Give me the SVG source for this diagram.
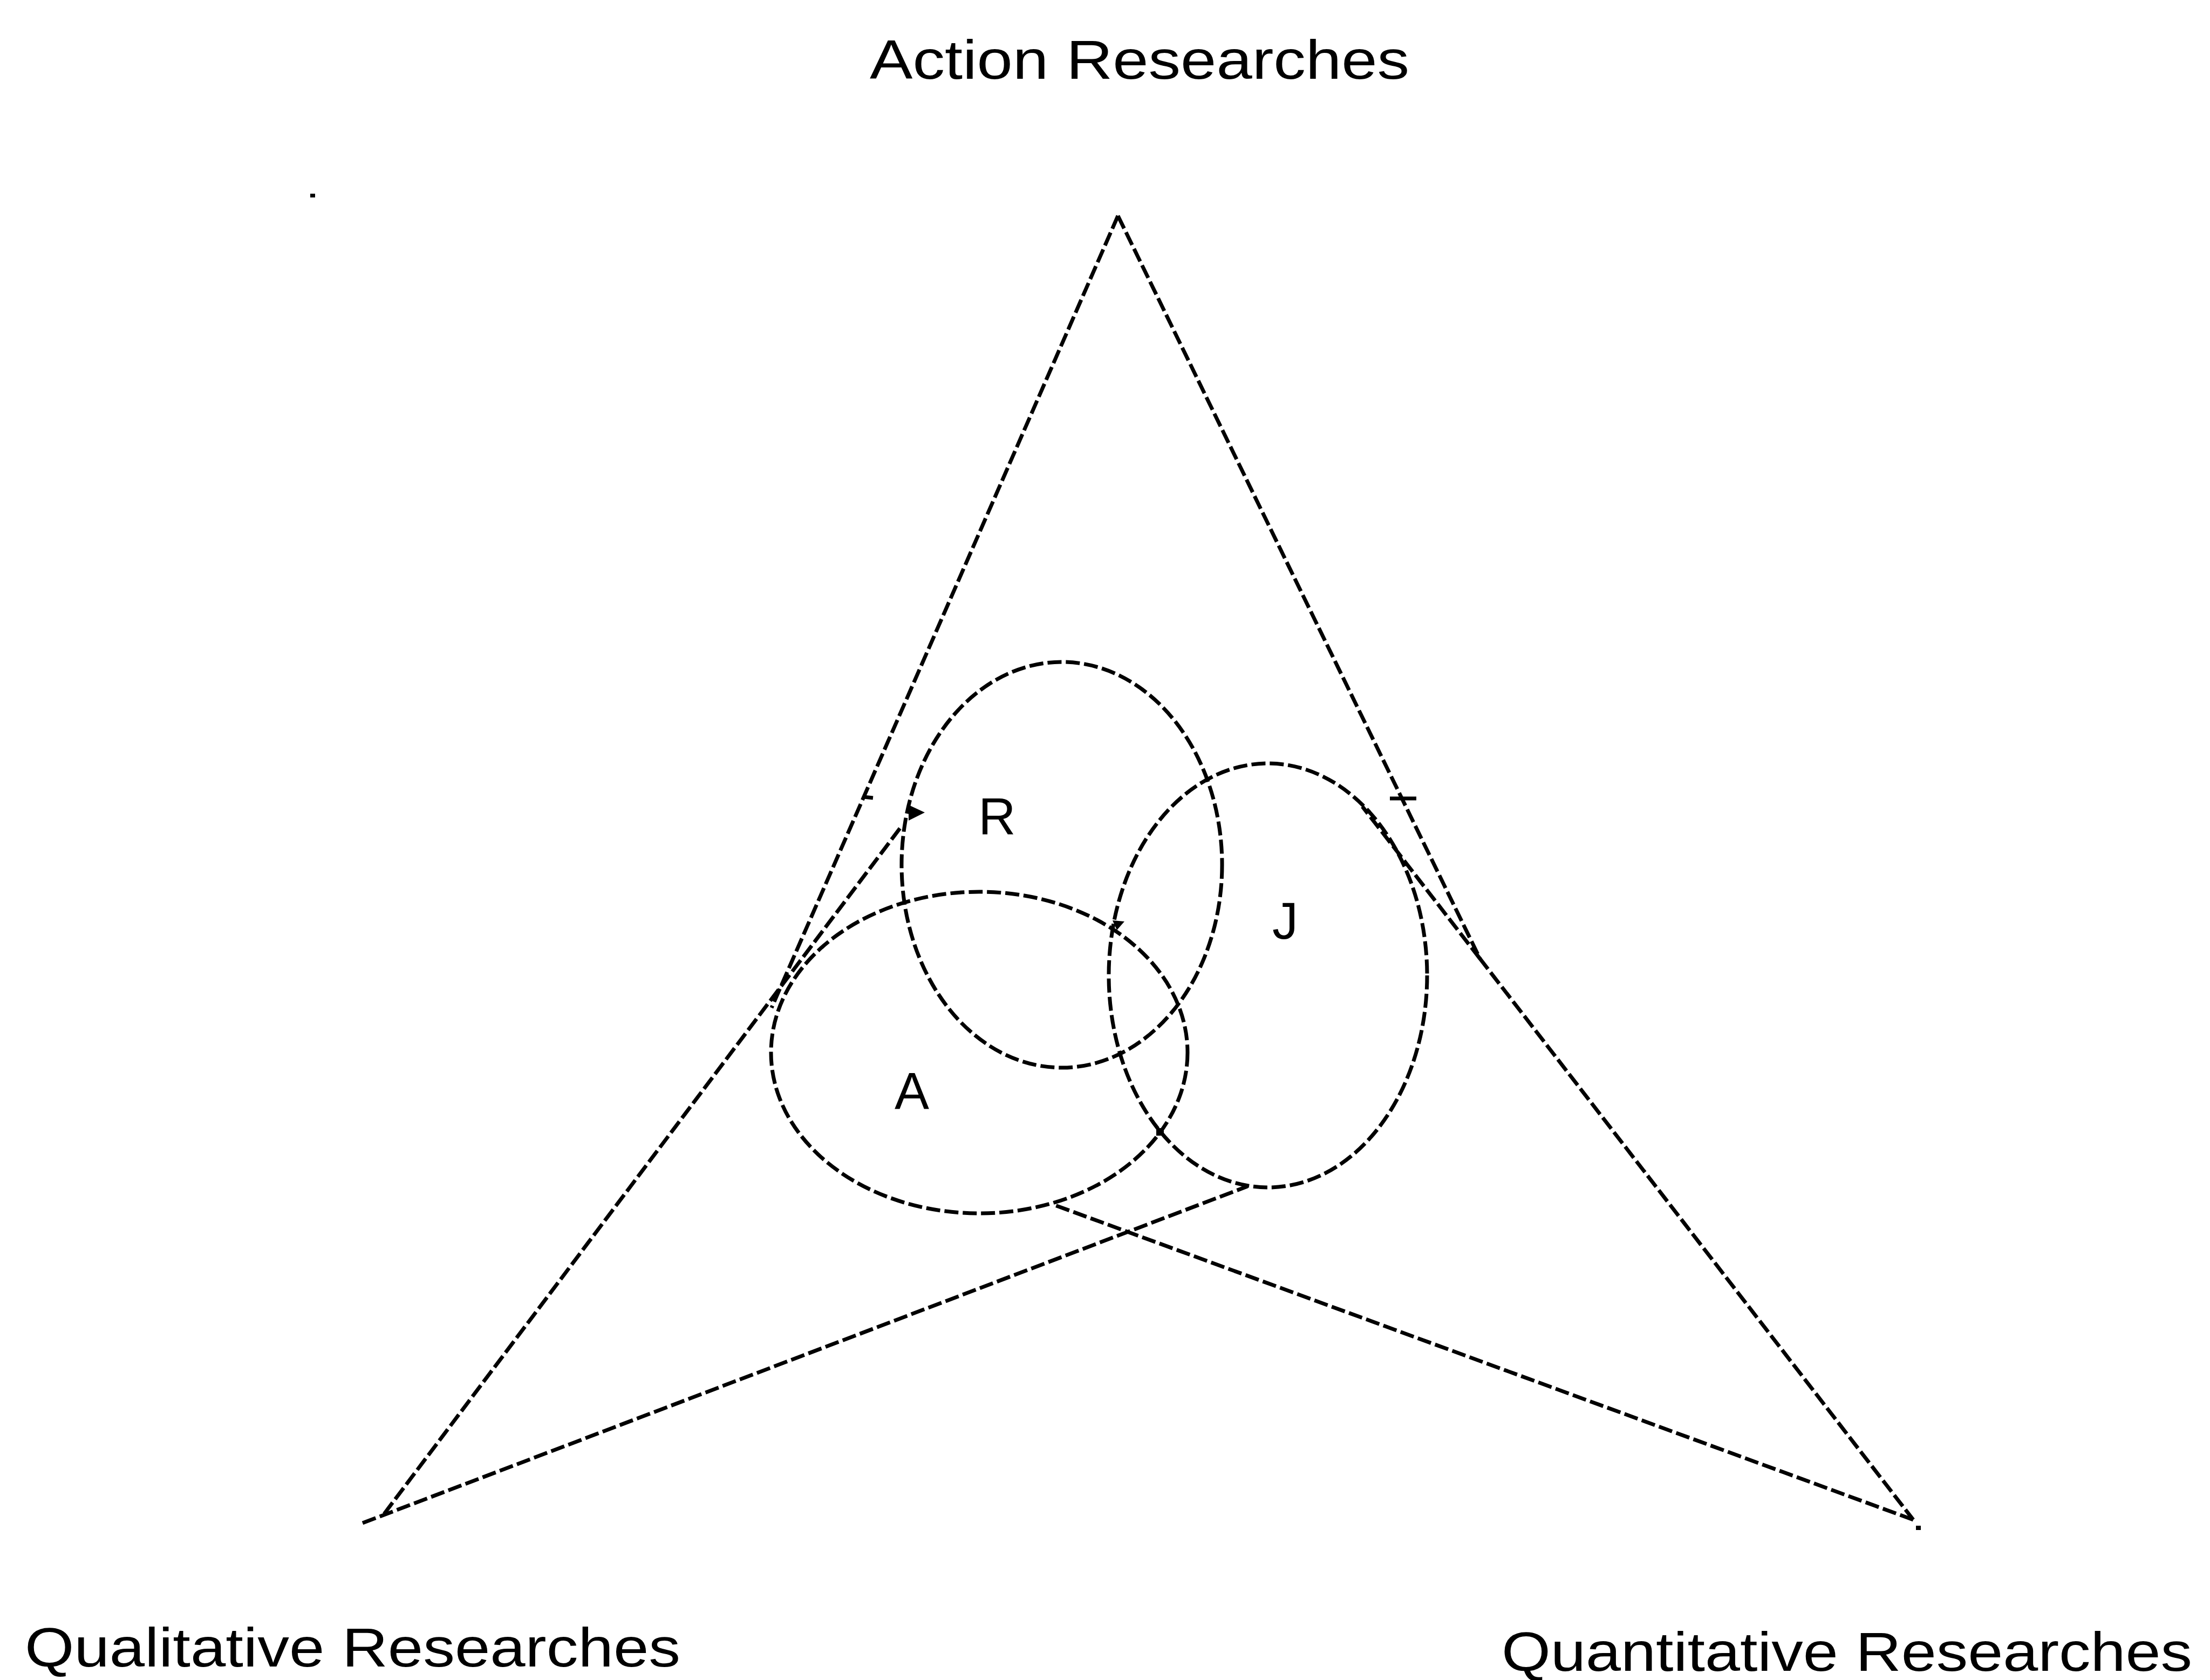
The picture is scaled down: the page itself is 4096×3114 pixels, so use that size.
<svg xmlns="http://www.w3.org/2000/svg" width="4096" height="3114" viewBox="0 0 4096 3114">
<style>
.bg{fill:#ffffff}
.ln{fill:none;stroke:#000;stroke-width:7;stroke-dasharray:26 8}
.sl{fill:none;stroke:#000;stroke-width:7}
.lbl{font-family:"Liberation Sans",Arial,sans-serif;font-size:102px;fill:#000}
.nl{font-family:"Liberation Sans",Arial,sans-serif;font-size:96px;fill:#000;text-anchor:middle}
.mk{fill:#000}
</style>
<rect class="bg" x="0" y="0" width="4096" height="3114"/>
<g id="labels">
<text class="lbl" x="1612" y="146" textLength="1000" lengthAdjust="spacingAndGlyphs">Action Researches</text>
<text class="lbl" x="46" y="3089" textLength="1215" lengthAdjust="spacingAndGlyphs">Qualitative Researches</text>
<text class="lbl" x="2783" y="3097" textLength="1280" lengthAdjust="spacingAndGlyphs">Quantitative Researches</text>
</g>
<g id="connectors">
<path class="ln" d="M2072 400 L1430 1868"/>
<path class="ln" d="M712 2806 L1672 1530"/>
<path class="ln" d="M2072 400 L2743 1777 L3546 2817"/>
<path class="ln" d="M2743 1777 L2525 1495"/>
<path class="ln" d="M672 2823 L2312 2199"/>
<path class="ln" d="M3546 2817 L1950 2232"/>
<path class="sl" d="M1600 1477 L1618 1479"/>
<path class="sl" d="M2576 1480 L2625 1480"/>
</g>
<g id="node-R">
<ellipse class="ln" cx="1968" cy="1603" rx="297" ry="376"/>
<text class="nl" x="1848" y="1547">R</text>
</g>
<g id="node-A">
<ellipse class="ln" cx="1815" cy="1951" rx="386" ry="298"/>
<text class="nl" x="1690" y="2055">A</text>
</g>
<g id="node-J">
<ellipse class="ln" cx="2350" cy="1808" rx="295" ry="393"/>
<text class="nl" x="2382" y="1740">J</text>
</g>
<g id="marks">
<polygon class="mk" points="1684,1492 1714,1506 1684,1521"/>
<rect class="mk" x="2143" y="2091" width="14" height="14"/>
<polygon class="mk" points="2062,1706 2084,1708 2070,1724"/>
<rect class="mk" x="575" y="359" width="9" height="7"/>
<rect class="mk" x="3551" y="2828" width="9" height="8"/>
</g>
</svg>
